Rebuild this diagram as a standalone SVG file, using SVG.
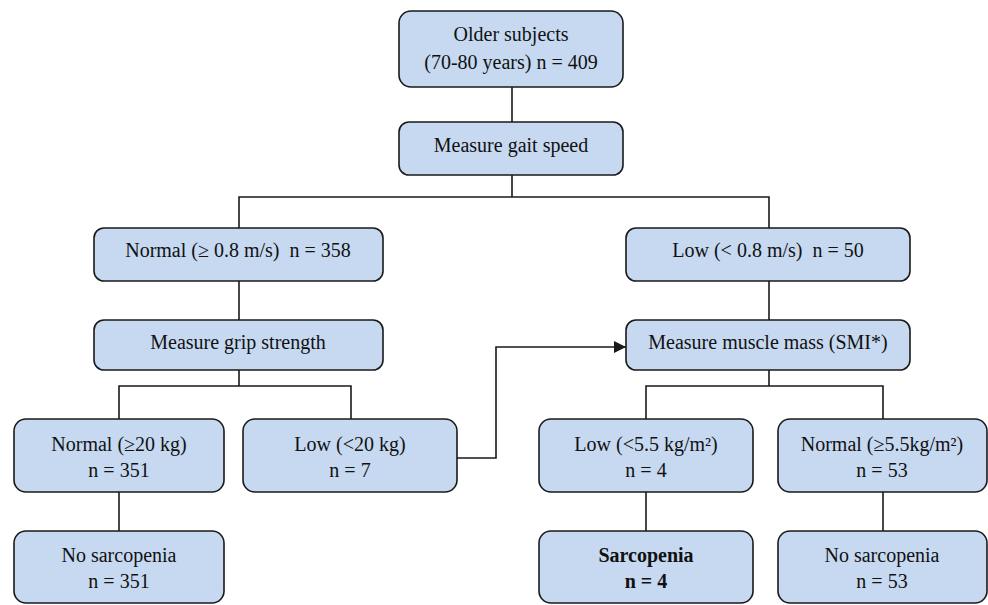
<svg xmlns="http://www.w3.org/2000/svg" width="988" height="605" viewBox="0 0 988 605">
<style>
  .box { fill: #c6d9f1; stroke: #1a1a1a; stroke-width: 1.6; }
  .t { font-family: "Liberation Serif", "Times New Roman", serif; font-size: 20px; fill: #111; text-anchor: middle; white-space: pre; }
  .b { font-weight: bold; }
  .c { fill: none; stroke: #1a1a1a; stroke-width: 1.6; }
</style>
<defs>
  <marker id="arr" viewBox="0 0 10 10" refX="10" refY="5" markerWidth="12" markerHeight="12" markerUnits="userSpaceOnUse" orient="auto">
    <path d="M0,0 L10,5 L0,10 z" fill="#1a1a1a"/>
  </marker>
</defs>
<rect width="988" height="605" fill="#ffffff"/>
<g id="connectors">
  <path class="c" d="M512,87 V122"/>
  <path class="c" d="M512,175 V197 M239,228 V197 H769 V228"/>
  <path class="c" d="M239,281 V320"/>
  <path class="c" d="M769,281 V320"/>
  <path class="c" d="M239,370 V386 M119,419 V386 H351 V419"/>
  <path class="c" d="M769,370 V386 M646,419 V386 H883 V419"/>
  <path class="c" d="M119,492 V531"/>
  <path class="c" d="M646,492 V531"/>
  <path class="c" d="M883,492 V531"/>
  <path class="c" d="M457,458 H496 V347 H626" marker-end="url(#arr)"/>
</g>
<g id="older">
  <rect class="box" x="399" y="11" width="224" height="76" rx="12"/>
  <text class="t" x="511" y="41">Older subjects</text>
  <text class="t" x="511" y="69">(70-80 years) n = 409</text>
</g>
<g id="gait">
  <rect class="box" x="399" y="122" width="224" height="53" rx="10"/>
  <text class="t" x="511" y="152">Measure gait speed</text>
</g>
<g id="normal-gait">
  <rect class="box" x="94" y="228" width="289" height="53" rx="10"/>
  <text class="t" x="238" y="257">Normal (≥ 0.8 m/s)  n = 358</text>
</g>
<g id="low-gait">
  <rect class="box" x="626" y="228" width="284" height="53" rx="10"/>
  <text class="t" x="768" y="257">Low (&lt; 0.8 m/s)  n = 50</text>
</g>
<g id="grip">
  <rect class="box" x="94" y="320" width="289" height="50" rx="10"/>
  <text class="t" x="238" y="349">Measure grip strength</text>
</g>
<g id="muscle">
  <rect class="box" x="626" y="320" width="284" height="50" rx="10"/>
  <text class="t" x="768" y="349">Measure muscle mass (SMI*)</text>
</g>
<g id="normal-grip">
  <rect class="box" x="14" y="419" width="210" height="73" rx="12"/>
  <text class="t" x="119" y="451">Normal (≥20 kg)</text>
  <text class="t" x="119" y="477">n = 351</text>
</g>
<g id="low-grip">
  <rect class="box" x="243" y="419" width="214" height="73" rx="12"/>
  <text class="t" x="350" y="451">Low (&lt;20 kg)</text>
  <text class="t" x="350" y="477">n = 7</text>
</g>
<g id="low-smi">
  <rect class="box" x="539" y="419" width="214" height="73" rx="12"/>
  <text class="t" x="646" y="451">Low (&lt;5.5 kg/m²)</text>
  <text class="t" x="646" y="477">n = 4</text>
</g>
<g id="normal-smi">
  <rect class="box" x="778" y="419" width="209" height="73" rx="12"/>
  <text class="t" x="882" y="451">Normal (≥5.5kg/m²)</text>
  <text class="t" x="882" y="477">n = 53</text>
</g>
<g id="no-sarc-left">
  <rect class="box" x="14" y="531" width="210" height="72" rx="12"/>
  <text class="t" x="119" y="562">No sarcopenia</text>
  <text class="t" x="119" y="588">n = 351</text>
</g>
<g id="sarcopenia">
  <rect class="box" x="539" y="531" width="214" height="72" rx="12"/>
  <text class="t b" x="646" y="562">Sarcopenia</text>
  <text class="t b" x="646" y="588">n = 4</text>
</g>
<g id="no-sarc-right">
  <rect class="box" x="778" y="531" width="209" height="72" rx="12"/>
  <text class="t" x="882" y="562">No sarcopenia</text>
  <text class="t" x="882" y="588">n = 53</text>
</g>
</svg>
